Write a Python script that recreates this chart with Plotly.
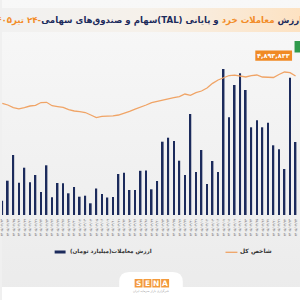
import plotly.graph_objects as go

# ---------------- data ----------------
dates_latin = [
    "1405/02/13", "1405/02/14", "1405/02/15", "1405/02/16",
    "1405/02/19", "1405/02/20", "1405/02/21", "1405/02/22", "1405/02/23",
    "1405/02/26", "1405/02/27", "1405/02/28", "1405/02/29", "1405/02/30",
    "1405/03/02", "1405/03/03", "1405/03/04", "1405/03/05", "1405/03/06",
    "1405/03/09", "1405/03/10", "1405/03/11", "1405/03/12", "1405/03/13",
    "1405/03/16", "1405/03/17", "1405/03/18", "1405/03/19", "1405/03/20",
    "1405/03/23", "1405/03/24", "1405/03/25", "1405/03/26", "1405/03/27",
    "1405/03/30", "1405/03/31", "1405/04/01", "1405/04/02", "1405/04/03",
    "1405/04/06", "1405/04/07", "1405/04/08", "1405/04/09", "1405/04/10",
    "1405/04/13", "1405/04/14", "1405/04/15", "1405/04/16", "1405/04/17",
    "1405/04/20", "1405/04/21", "1405/04/22", "1405/04/23", "1405/04/24",
]
trade_value = [  # ارزش معاملات (میلیارد تومان)
    715, 1715, 3000, 1615, 2365, 1635, 2000, 1150, 2485, 885,
    1600, 1585, 1085, 1400, 915, 965, 585, 1325, 1050, 875,
    900, 2050, 2115, 1250, 1250, 2210, 2225, 1285, 1700, 3665,
    3865, 3700, 2715, 2000, 5050, 2150, 3250, 1550, 2700, 2150,
    7300, 4885, 6500, 7085, 6250, 4385, 4735, 4385, 4615, 3485,
    3285, 2300, 6865, 3650,
]
index_value = [  # شاخص کل
    4212000, 4169000, 4106000, 4074000, 4106000, 4144000, 4161000, 4231000, 4236000, 4151000,
    4131000, 4111000, 4056000, 4019000, 4006000, 3981000, 3919000, 3856000, 3886000, 3886000,
    3899000, 3919000, 3956000, 4011000, 4064000, 4111000, 4169000, 4226000, 4264000, 4294000,
    4324000, 4356000, 4381000, 4444000, 4411000, 4476000, 4519000, 4594000, 4711000, 4794000,
    4856000, 4906000, 4914000, 4894000, 4869000, 4906000, 4919000, 4869000, 4856000, 4856000,
    4931000, 4994000, 4976000, 4893833,
]
last_label = "۴,۸۹۳,۸۳۳"

fa_digits = str.maketrans("0123456789", "۰۱۲۳۴۵۶۷۸۹")
dates = [d.translate(fa_digits) for d in dates_latin]

NAVY = "#1c2b5c"
ORANGE = "#f0a466"
TITLE_OR = "#f28c28"
FONT = "DejaVu Sans"

fig = go.Figure()

# ---------------- decorative background (pixel coordinates on x / y) ----------------
fig.add_trace(go.Scatter(
    x=[0, 300, 300, 0, 0], y=[0, 0, 300, 300, 0], mode="lines", line=dict(width=0),
    fill="toself", fillgradient=dict(type="vertical",
                                      colorscale=[[0, "#ebebeb"], [1, "#f8f8f8"]]),
    hoverinfo="skip", showlegend=False, xaxis="x", yaxis="y"))
fig.add_trace(go.Scatter(
    x=[0, 300, 300, 0, 0], y=[8, 8, 32, 32, 8], mode="lines", line=dict(width=0),
    fill="toself", fillgradient=dict(type="horizontal",
                                      colorscale=[[0, "#f1f1f1"], [0.5, "#f6f1ea"], [1, "#fde2c2"]]),
    hoverinfo="skip", showlegend=False, xaxis="x", yaxis="y"))
fig.add_trace(go.Scatter(
    x=[0, 300, 300, 0, 0], y=[287, 287, 300, 300, 287], mode="lines", line=dict(width=0),
    fill="toself", fillcolor="#ffffff", hoverinfo="skip", showlegend=False,
    xaxis="x", yaxis="y"))

# ---------------- data traces ----------------
fig.add_trace(go.Bar(
    x=dates, y=trade_value, marker=dict(color=NAVY, line=dict(width=0)),
    width=0.3, name="ارزش معاملات(میلیارد تومان)", xaxis="x2", yaxis="y2",
    showlegend=False))
fig.add_trace(go.Scatter(
    x=dates, y=index_value, mode="lines", line=dict(color=ORANGE, width=1.3),
    name="شاخص کل", xaxis="x2", yaxis="y3", showlegend=False))

shapes = []
# logo tab
shapes.append(dict(type="path", xref="x", yref="y",
                   path="M 118 300 L 118 282 Q 118 272 128 272 L 172 272 Q 182 272 182 282 L 182 300 Z",
                   fillcolor="#ffffff", line=dict(width=0), layer="above"))
for i, ch in enumerate("SENA"):
    x0 = 133.5 + i * 8.9
    shapes.append(dict(type="rect", xref="x", yref="y", x0=x0, x1=x0 + 8.0, y0=279, y1=287.5,
                       fillcolor="#f39a3c", line=dict(width=0), layer="above"))
# legend symbols
shapes.append(dict(type="rect", xref="x", yref="y", x0=53, x1=64, y0=250.5, y1=253.5,
                   fillcolor=NAVY, line=dict(width=0), layer="above"))
shapes.append(dict(type="line", xref="x", yref="y", x0=225, x1=237, y0=252.3, y1=252.3,
                   line=dict(color=ORANGE, width=1.3), layer="above"))
# last value tags
shapes.append(dict(type="rect", xref="x", yref="y", x0=255, x1=292, y0=50.5, y1=60.8,
                   fillcolor="#f08a24", line=dict(width=0), layer="above"))
shapes.append(dict(type="rect", xref="x", yref="y", x0=294.5, x1=302, y0=41, y1=52.5,
                   fillcolor="#2f9a4c", line=dict(width=0), layer="above"))

annotations = []
title = ("\u202b<span style='color:%s'>ارزش </span>"
         "<span style='color:%s'>معاملات خرد</span>"
         "<span style='color:%s'> و پایانی (TAL)سهام و صندوق‌های سهامی</span>"
         "<span style='color:%s'>-۲۴ تیر۱۴۰۵</span>\u202c") % (NAVY, TITLE_OR, NAVY, TITLE_OR)
annotations.append(dict(text=title, xref="x", yref="y", x=299, y=20, xshift=5, showarrow=False,
                        xanchor="right", yanchor="middle",
                        font=dict(family=FONT, size=8.6, color=NAVY, weight="bold")))
annotations.append(dict(text=last_label, xref="x", yref="y", x=273.5, y=55.8, showarrow=False,
                        font=dict(family=FONT, size=6.5, color="#ffffff", weight="bold")))
annotations.append(dict(text="شاخص کل", xref="x", yref="y", x=238, y=251, showarrow=False,
                        xanchor="left", yanchor="middle",
                        font=dict(family=FONT, size=6, color="#333333", weight="bold")))
annotations.append(dict(text="ارزش معاملات(میلیارد تومان)", xref="x", yref="y", x=66, y=251,
                        showarrow=False, xanchor="left", yanchor="middle",
                        font=dict(family=FONT, size=5.6, color="#333333", weight="bold")))
for i, ch in enumerate("SENA"):
    annotations.append(dict(text=ch, xref="x", yref="y", x=133.5 + i * 8.9 + 4.0, y=283.4,
                            showarrow=False, xanchor="center", yanchor="middle",
                            font=dict(family=FONT, size=7.5, color="#ffffff", weight="bold")))
annotations.append(dict(text="خبرگزاری بازار سرمایه ایران", xref="x", yref="y", x=150, y=291,
                        showarrow=False, font=dict(family=FONT, size=3, color="#999999")))

fig.update_layout(
    width=300, height=300, margin=dict(l=0, r=0, t=0, b=0),
    paper_bgcolor="#f0f0f0", plot_bgcolor="rgba(0,0,0,0)",
    showlegend=False, bargap=0.7,
    xaxis=dict(domain=[0, 1], range=[0, 300], visible=False, fixedrange=True),
    yaxis=dict(domain=[0, 1], range=[300, 0], visible=False, fixedrange=True),
    xaxis2=dict(overlaying="x", anchor="free", position=85 / 300, type="category",
                range=[-0.05, 53.8], showgrid=False, zeroline=False, showline=False,
                ticks="", tickangle=-90, tickfont=dict(family=FONT, size=3.6, color="#666666"),
                ticklabelstandoff=2),
    yaxis2=dict(overlaying="y", range=[-4250, 10750], visible=False, showgrid=False),
    yaxis3=dict(overlaying="y", range=[-706000, 6794000], visible=False, showgrid=False),
    shapes=shapes, annotations=annotations,
)

fig.write_html("out.html")
